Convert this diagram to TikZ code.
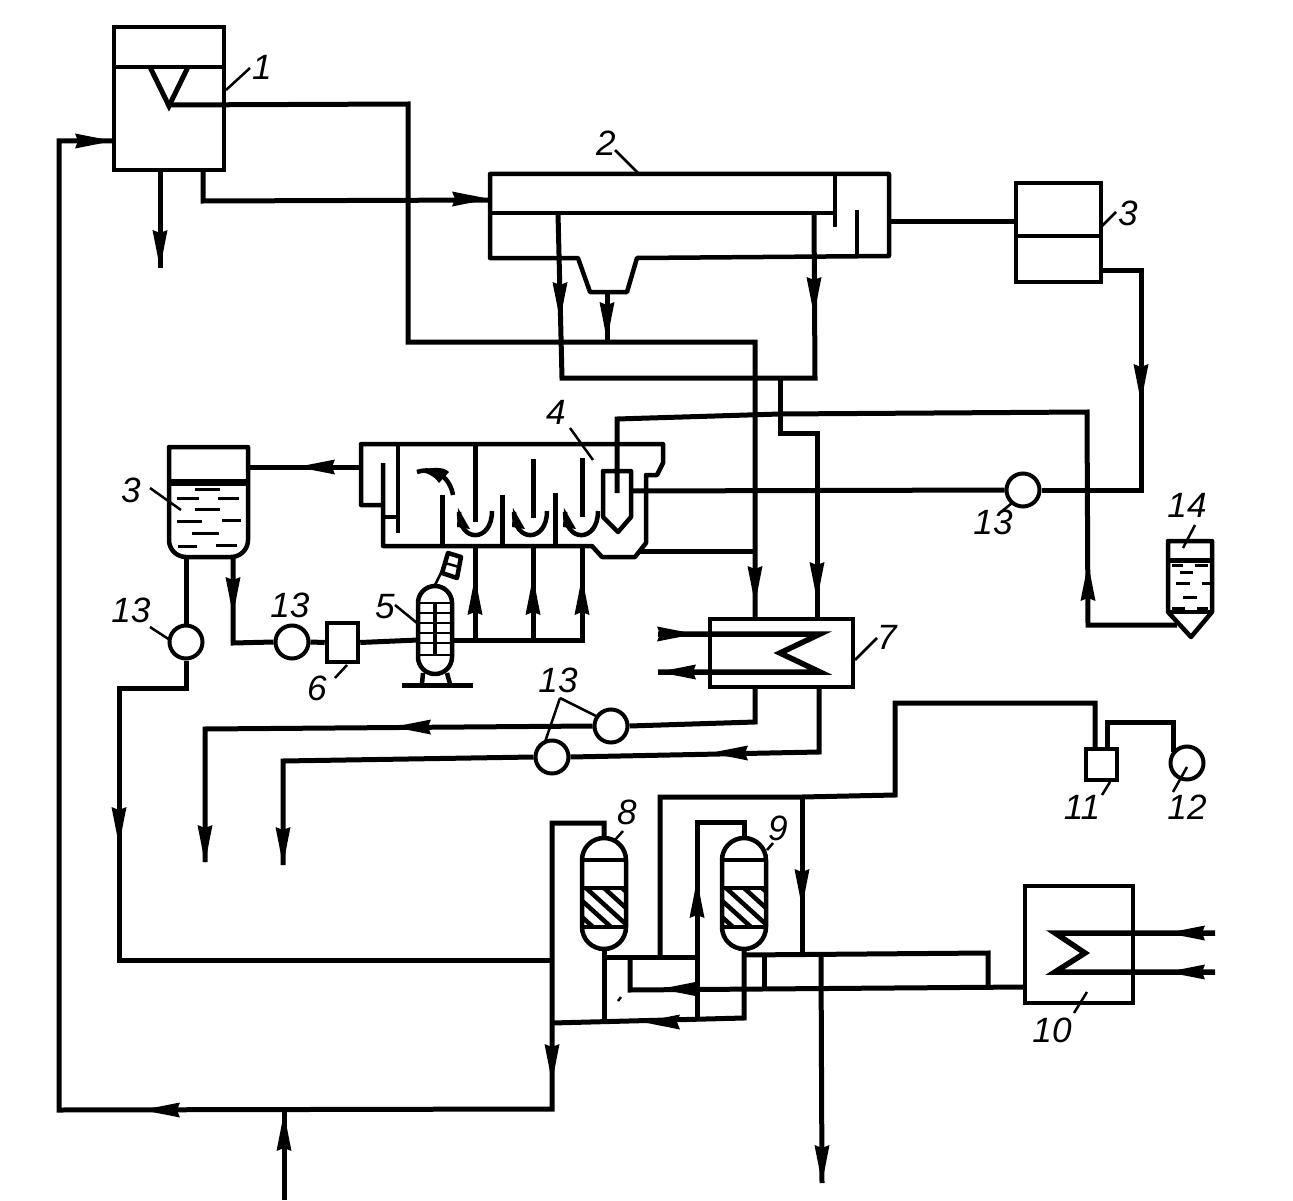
\documentclass[tikz,border=0pt]{standalone}
\usepackage{fontspec}
\setsansfont{Liberation Sans}
\def\px{0.2mm}
\newcommand{\flowtip}[2]{\fill[shift={(#1)},rotate=#2] (0,0) -- (-38,-7.5) -- (-35,0) -- (-38,7.5) -- cycle;}
\tikzset{
    pipe/.style={line width=5*\px},
    wall/.style={line width=4.5*\px, line join=round},
    vessel/.style={draw, line width=4.5*\px, inner sep=0pt},
    pump/.style={draw, circle, line width=4*\px, inner sep=0pt, minimum size=33*\px},
    leader/.style={line width=2.5*\px},
    numlabel/.style={font=\fontsize{20}{20}\selectfont\sffamily\itshape, inner sep=0pt},
    drop/.style={line width=3*\px}
}
\begin{document}
\begin{tikzpicture}[x=\px, y=-\px]
    \useasboundingbox (0,0) rectangle (1293,1201);
    % vessels as nodes
    \node[vessel, minimum width=110*\px, minimum height=143*\px] (t1) at (169,98.5) {};
    \node[vessel, minimum width=85*\px, minimum height=99*\px] (t3r) at (1058.5,232.5) {};
    \node[vessel, minimum width=31*\px, minimum height=39*\px] (b6) at (342.5,642.5) {};
    \node[vessel, minimum width=143*\px, minimum height=68*\px] (c7) at (781.5,653) {};
    \node[vessel, minimum width=31*\px, minimum height=31*\px] (b11) at (1101.5,764.5) {};
    \node[vessel, minimum width=108*\px, minimum height=117*\px] (t10) at (1079,944.5) {};
    % pumps
    \node[pump] (p1) at (1023,490) {};
    \node[pump] (p2) at (292,642) {};
    \node[pump] (p3) at (186,642) {};
    \node[pump] (p4) at (611,726) {};
    \node[pump] (p5) at (552,757) {};
    \node[pump] (p6) at (1187,763) {};
    % vessel 1
    \draw[wall] (114,67) -- (224,67);
    \draw[pipe] (150,67) -- (169,106) -- (188,67);
    % vessel 2
    \draw[wall] (490,174) -- (889,174) -- (889,256) -- (637,258) -- (627,292) -- (590,292) -- (578,258) -- (490,258) -- cycle;
    \draw[wall] (490,213) -- (835,213); \draw[wall] (835,174) -- (835,227); \draw[wall] (857,210) -- (857,257);
    \draw[wall] (1016,236) -- (1101,236);
    % vessel 4
    \draw[wall] (383,505) -- (361,505) -- (361,444) -- (663,444) -- (663,463) -- (657,475) -- (646,475) -- (646,543) -- (635,557) -- (602,557) -- (592,546) -- (383,546) -- (383,463);
    \draw[wall] (383,517) -- (398,517) (398,444) -- (398,533);
    \foreach \x/\a/\b in {442/495/546, 475/444/522, 502/495/546, 533/459/518, 555/493/546, 582/458/517}
        \draw[pipe] (\x,\a) -- (\x,\b);
    \foreach \ux in {459,514,565} {
        \draw[wall] (\ux,512) .. controls (\ux,543) and (\ux+33,543) .. (\ux+33,511);
        \fill (\ux-1,508) -- (\ux-2,527) -- (\ux+11,529) -- cycle;
    }
    \draw[wall] (453,495) .. controls (450,478) and (436,466) .. (417,472);
    \fill (417,472) .. controls (428,467) and (444,466) .. (449,472) -- (439,483) .. controls (434,476) and (427,472) .. (417,472);
    \draw[wall] (603,471) -- (631,471) -- (631,517) -- (618,532) -- (603,517) -- cycle;
    % aerator 5
    \draw[wall] (418,603) arc (180:360:17) -- (452,657) arc (0:180:17) -- cycle;
    \foreach \y in {603,613,623,633,643,655} \draw[leader] (418,\y) -- (452,\y);
    \draw[wall] (435,603) -- (435,655);
    \draw[wall] (423,673) -- (422,684) (447,673) -- (450,684);
    \draw[pipe] (402,685) -- (473,685);
    \draw[leader] (434,587) -- (445,565);
    \draw[wall] (448,553) -- (461,557) -- (457,578) -- (442,573) -- cycle;
    \draw[leader] (445,563) -- (459,567);
    % left tank 3
    \draw[wall] (169,447) -- (248,447) -- (248,540) arc (0:90:17) -- (186,557) arc (90:180:17) -- cycle;
    \draw[line width=7*\px] (169,482) -- (248,482);
    \foreach \a/\b/\y in {195/220/489, 177/199/498, 218/239/498, 195/220/509, 177/202/521, 222/241/520, 192/219/533, 178/197/546, 216/237/545}
        \draw[drop] (\a,\y) -- (\b,\y);
    % tank 14
    \draw[wall] (1168,541) -- (1212,541) -- (1212,612) -- (1191,637) -- (1168,612) -- cycle;
    \draw[wall] (1168,612) -- (1212,612);
    \draw[line width=5*\px] (1168,560) -- (1212,560);
    \foreach \a/\b/\y in {1172/1183/565, 1195/1208/565, 1180/1193/572, 1176/1190/583, 1202/1210/583, 1183/1197/597, 1172/1185/608, 1197/1208/608}
        \draw[drop] (\a,\y) -- (\b,\y);
    % columns 8 and 9
    \foreach \cx in {604,744} {
        \draw[wall] (\cx-22,860) arc (180:360:22) -- (\cx+22,927) arc (0:180:22) -- cycle;
        \draw[wall] (\cx-22,860) -- (\cx+22,860) (\cx-22,888) -- (\cx+22,888) (\cx-22,927) -- (\cx+22,927);
        \begin{scope}
            \clip (\cx-22,888) rectangle (\cx+22,927);
            \foreach \d in {-54,-36,-18,0,18}
                \draw[wall] (\cx+\d,888) -- ++(43,39);
        \end{scope}
    }
    % coils
    \draw[line width=5.5*\px] (658,634) -- (820,634) -- (780,653) -- (820,672) -- (658,672);
    \draw[line width=5.5*\px] (1215,933) -- (1055,933) -- (1085,953) -- (1055,972) -- (1215,972);
    % pipes
    \coordinate (v1) at (169,105); \coordinate (c7a) at (755,619); \coordinate (c7b) at (817,619);
    \coordinate (c7c) at (755,687); \coordinate (c7d) at (819,687);
    \coordinate (t1a) at (160,170); \coordinate (s1) at (160,268);
    \coordinate (t1b) at (203,170); \coordinate (u2) at (490,200);
    \coordinate (u2a) at (558,213); \coordinate (u2b) at (814,213); \coordinate (u2c) at (607,292); \coordinate (u2d) at (889,221);
    \coordinate (j1) at (607,342); \coordinate (j2) at (780,378); \coordinate (j3) at (780,414);
    \coordinate (s4a) at (617,493); \coordinate (s4b) at (631,491); \coordinate (s4c) at (361,467); \coordinate (s4d) at (640,551);
    \coordinate (j4) at (755,551); \coordinate (tl) at (248,467); \coordinate (t14) at (1177,625);
    \coordinate (t3a) at (1016,221); \coordinate (t3b) at (1101,270);
    \coordinate (tl1) at (186,557); \coordinate (tl2) at (233,557); \coordinate (a5) at (418,640);
    \coordinate (a1) at (475,546); \coordinate (a2) at (533,546); \coordinate (a3) at (582,546);
    \coordinate (m1) at (452,640); \coordinate (m2) at (475,640); \coordinate (m3) at (533,640);
    \draw[pipe] (v1) -- (408,104) -- (408,342) -- (755,342) -- (c7a);
    \draw[pipe] (t1a) -- (s1);
    \draw[pipe] (t1b) -- (203,201) -- (u2);
    \draw[pipe] (u2a) -- (562,378) -- (815,378) -- (u2b);
    \draw[pipe] (u2c) -- (j1);
    \draw[pipe] (j2) -- (780,433) -- (817,433) -- (c7b);
    \draw[pipe] (j3) -- (1087,412) -- (1088,625) -- (t14);
    \draw[pipe] (j3) -- (617,419) -- (s4a);
    \draw[pipe] (u2d) -- (t3a);
    \draw[pipe] (t3b) -- (1141,270) -- (1141,490) -- (p1.east);
    \draw[pipe] (p1.west) -- (s4b);
    \draw[pipe] (s4c) -- (tl);
    \draw[pipe] (s4d) -- (j4);
    \draw[pipe] (m1) -- (582,640) -- (a3);
    \draw[pipe] (m2) -- (a1); \draw[pipe] (m3) -- (a2);
    \draw[pipe] (b6.east) -- (a5);
    \draw[pipe] (p2.east) -- (b6.west);
    \draw[pipe] (tl2) -- (233,643) -- (p2.west);
    \draw[pipe] (tl1) -- (p3.north);
    % lower part
    \coordinate (c8t) at (604,838); \coordinate (c8b) at (604,949); \coordinate (c9t) at (744,838); \coordinate (c9b) at (744,949);
    \coordinate (e1) at (205,862); \coordinate (e2) at (283,865);
    \coordinate (h1) at (552,960); \coordinate (h2) at (284,1200); \coordinate (h3) at (284,1110);
    \coordinate (h4) at (552,1023); \coordinate (h5) at (604,1023); \coordinate (h6) at (697,1020);
    \coordinate (h7) at (660,957); \coordinate (h8) at (697,957); \coordinate (h9) at (630,957);
    \coordinate (k1) at (744,955); \coordinate (k2) at (764,955); \coordinate (k3) at (764,988);
    \coordinate (k4) at (802,797); \coordinate (k5) at (802,955); \coordinate (k6) at (821,955); \coordinate (k7) at (822,1183);
    \coordinate (t10a) at (1025,987); \coordinate (b11a) at (1095,749); \coordinate (b11b) at (1107,749); \coordinate (p6a) at (1173,752);
    \draw[pipe] (p3.south) -- (186,688) -- (119,688) -- (119,960) -- (h1);
    \draw[pipe] (c7c) -- (755,722) -- (p4.east);
    \draw[pipe] (p4.west) -- (205,729) -- (e1);
    \draw[pipe] (c7d) -- (819,752) -- (p5.east);
    \draw[pipe] (p5.west) -- (283,761) -- (e2);
    \draw[pipe] (c8t) -- (604,823) -- (552,823) -- (552,1109) -- (59,1110) -- (59,141) -- (t1.west |- 0,141);
    \draw[pipe] (h2) -- (h3);
    \draw[pipe] (c8b) -- (h5);
    \draw[pipe] (h4) -- (744,1018) -- (c9b);
    \draw[pipe] (h6) -- (697,822) -- (744,822) -- (c9t);
    \draw[pipe] (h7) -- (660,797) -- (k4) -- (895,795) -- (895,703) -- (1095,703) -- (b11a);
    \draw[pipe] (c8b |- h8) -- (h8);
    \draw[pipe] (k1) -- (988,953) -- (988,987);
    \draw[pipe] (h9) -- (630,990) -- (t10a);
    \draw[pipe] (k2) -- (k3);
    \draw[pipe] (k4) -- (k5);
    \draw[pipe] (k6) -- (k7);
    \draw[pipe] (b11b) -- (1107,722) -- (1173,722) -- (p6a);
    % flow arrows
    \flowtip{113,141}{0} \flowtip{160,268}{270} \flowtip{490,199}{0}
    \flowtip{560,320}{270} \flowtip{607,340}{270} \flowtip{814,315}{270}
    \flowtip{755,604}{270} \flowtip{817,600}{270} \flowtip{1141,402}{270}
    \flowtip{1088,563}{90} \flowtip{297,467}{180} \flowtip{233,615}{270}
    \flowtip{475,577}{90} \flowtip{533,577}{90} \flowtip{582,577}{90}
    \flowtip{695,634}{0} \flowtip{658,672}{180}
    \flowtip{393,727}{180} \flowtip{710,753}{180} \flowtip{205,863}{270} \flowtip{283,865}{270}
    \flowtip{119,845}{270} \flowtip{142,1110}{180} \flowtip{284,1113}{90} \flowtip{552,1082}{270}
    \flowtip{697,880}{90} \flowtip{802,907}{270} \flowtip{660,989}{180} \flowtip{642,1022}{180}
    \flowtip{822,1183}{270} \flowtip{1167,933}{180} \flowtip{1167,972}{180}
    % labels
    \foreach \nm/\x/\y/\t in {a/262/67/1, b/606/143/2, c/1128/213/3, d/131/490/3, e/556/412/4, f/385/607/5,
        g/317/688/6, h/887/637/7, i/627/812/8, j/778/828/9, k/1052/1030/10, l/1082/807/11, m/1187/807/12,
        n/993/522/13, o/131/610/13, q/290/605/13, r/558/680/13, s/1187/505/14}
        \node[numlabel] (lb\nm) at (\x,\y) {\t};
    % leaders
    \foreach \x/\y/\u/\v in {226/90/250/68, 615/150/640/175, 1101/227/1116/212, 150/488/181/510, 150/627/170/640,
        570/428/593/460, 395/605/417/623, 335/678/347/665, 855/660/877/638, 615/840/623/831, 767/850/773/843,
        1087/992/1074/1013, 1110/782/1102/795, 1187/767/1173/792, 1012/503/1001/512, 1195/525/1183/548,
        560/698/598/717, 560/698/545/742, 618/1001/621/997} {
        \coordinate (m) at (\x,\y); \coordinate (n) at (\u,\v);
        \draw[leader] (m) -- (n);
    }
\end{tikzpicture}
\end{document}
